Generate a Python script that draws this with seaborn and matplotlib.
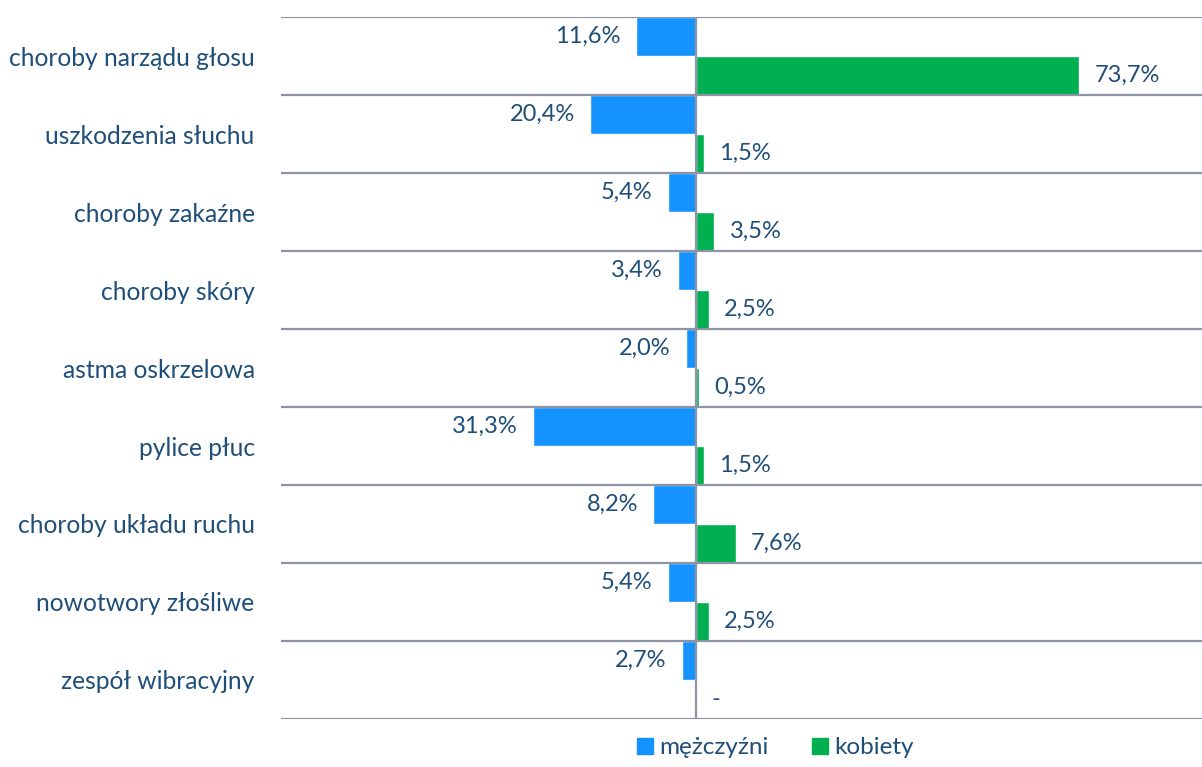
import pandas as pd
import matplotlib
matplotlib.use('Agg')
import matplotlib.pyplot as plt
from matplotlib.patches import Patch
import seaborn as sns

# Dane
kategorie = ['choroby narządu głosu', 'uszkodzenia słuchu', 'choroby zakaźne',
             'choroby skóry', 'astma oskrzelowa', 'pylice płuc',
             'choroby układu ruchu', 'nowotwory złośliwe', 'zespół wibracyjny']
mezczyzni = [11.6, 20.4, 5.4, 3.4, 2.0, 31.3, 8.2, 5.4, 2.7]
kobiety = [73.7, 1.5, 3.5, 2.5, 0.5, 1.5, 7.6, 2.5, 0.0]

kolor_m = '#1493FF'
kolor_k = '#00B050'
kolor_tekst = '#1F4E79'
kolor_linii = '#8E94A6'

df = pd.DataFrame({
    'kategoria': kategorie * 2,
    'wartosc': [-v for v in mezczyzni] + kobiety,
    'plec': ['mężczyźni'] * len(kategorie) + ['kobiety'] * len(kategorie),
})

sns.set_style('white')
plt.rcParams['font.family'] = ['Lato', 'DejaVu Sans']

fig = plt.figure(figsize=(12.02, 7.67), dpi=100)
ax = fig.add_axes([0.2338, 0.0626, 0.7662, 0.9152])

sns.barplot(data=df, y='kategoria', x='wartosc', hue='plec', orient='h',
            palette=[kolor_m, kolor_k], width=1.0, saturation=1,
            legend=False, ax=ax)

ax.set_xlim(-79.8, 97.3)
ax.set_ylim(len(kategorie) - 0.5, -0.5)

# linie oddzielające kategorie
for i in range(len(kategorie) + 1):
    ax.axhline(i - 0.5, color=kolor_linii, lw=1.6, zorder=3)
ax.axvline(0, color=kolor_linii, lw=1.6, zorder=3)

# etykiety wartości
for bar, v in zip(ax.containers[0], mezczyzni):
    y = bar.get_y() + bar.get_height() / 2
    x_lewy = min(bar.get_x(), bar.get_x() + bar.get_width())
    ax.annotate(f'{v:.1f}%'.replace('.', ','), (x_lewy, y),
                xytext=(-11, 0), textcoords='offset points',
                ha='right', va='center', fontsize=17, color=kolor_tekst)
for bar, v in zip(ax.containers[1], kobiety):
    y = bar.get_y() + bar.get_height() / 2
    txt = '-' if v == 0 else f'{v:.1f}%'.replace('.', ',')
    x_prawy = max(bar.get_x(), bar.get_x() + bar.get_width())
    ax.annotate(txt, (x_prawy, y),
                xytext=(11, 0), textcoords='offset points',
                ha='left', va='center', fontsize=17, color=kolor_tekst)

ax.set_xlabel('')
ax.set_ylabel('')
ax.set_xticks([])
ax.tick_params(axis='y', length=0, pad=19, labelsize=17.7, labelcolor=kolor_tekst)
for s in ax.spines.values():
    s.set_visible(False)

uchwyty = [Patch(color=kolor_m, label='mężczyźni'), Patch(color=kolor_k, label='kobiety')]
fig.legend(handles=uchwyty, loc='lower center', bbox_to_anchor=(0.645, -0.017),
           ncol=2, frameon=False, fontsize=17.5, handlelength=0.65, handleheight=0.65,
           handletextpad=0.25, columnspacing=1.8, labelcolor=kolor_tekst)

fig.savefig('out.png', dpi=100)
